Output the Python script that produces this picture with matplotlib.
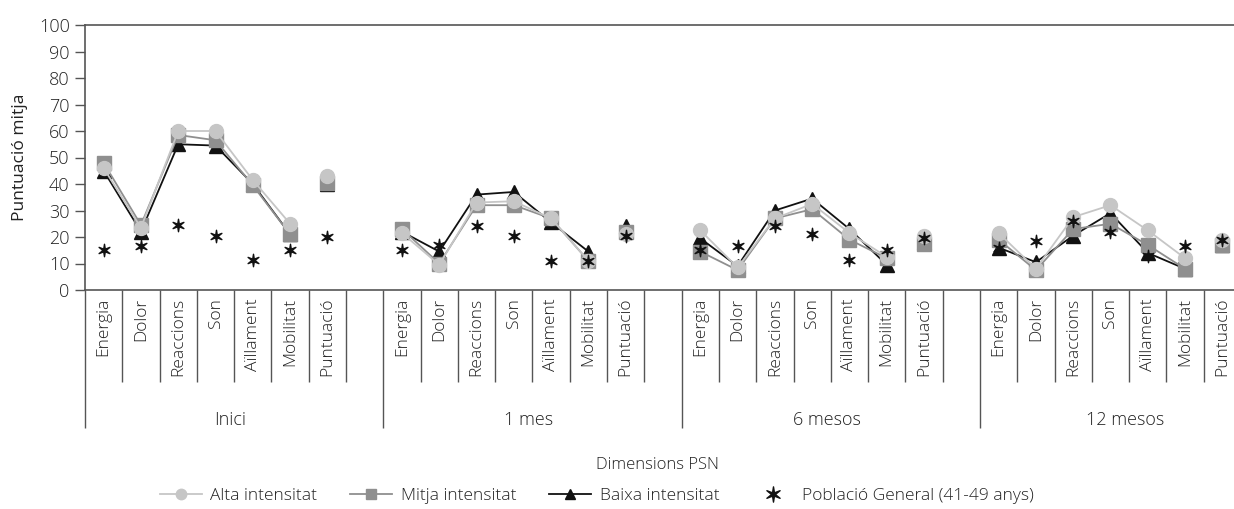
import numpy as np
import matplotlib.pyplot as plt
from matplotlib.path import Path
from matplotlib.lines import Line2D
import matplotlib.transforms as mtransforms

plt.rcParams['font.family'] = ['Open Sans', 'DejaVu Sans']
plt.rcParams['font.weight'] = 'light'

dimensions = ['Energia', 'Dolor', 'Reaccions', 'Son', 'Aïllament', 'Mobilitat', 'Puntuació']
moments = ['Inici', '1 mes', '6 mesos', '12 mesos']

# rows = moments, cols = dimensions
alta = [[46, 23.5, 60, 60, 41.5, 25, 43],
        [21.5, 9.5, 33, 33.5, 27, 11, 21],
        [22.5, 8.5, 27, 32.5, 21.5, 12.5, 20.5],
        [21.5, 8, 27.5, 32, 22.5, 12, 19]]
mitja = [[48, 24.5, 58.5, 56.5, 39.5, 21, 40.5],
         [23, 10, 32, 32, 27, 11, 22],
         [14.5, 7.5, 27, 30.5, 19, 12, 17.5],
         [19, 7.5, 23, 25, 17, 8, 17]]
baixa = [[45, 22, 55, 54.5, 40, 21, 40],
         [22, 14.5, 36, 37, 25.5, 14.5, 24],
         [19.5, 9, 30, 34.5, 23, 9.5, 18],
         [16, 10.5, 20.5, 29, 14, 8, 17]]
poblacio = [[15, 16.5, 24.5, 20.5, 11.5, 15, 20],
            [15, 17, 24, 20.5, 11, 11, 20.5],
            [15, 16.5, 24, 21, 11.5, 15, 19.5],
            [16, 18.5, 26, 22, 13, 16.5, 19]]

series = [('Alta intensitat', alta, '#c6c6c6', 'o', 10, 5),
          ('Mitja intensitat', mitja, '#8f8f8f', 's', 10.5, 4),
          ('Baixa intensitat', baixa, '#111111', '^', 9.5, 3)]

star = Path.unit_regular_star(6, 0.25)
txt = '#222222'

fig = plt.figure(figsize=(12.34, 5.09), dpi=100)
ax = fig.add_axes([85 / 1234, 219 / 509, 1156 / 1234, 265 / 509])

slot = 8
for g in range(len(moments)):
    xs = np.arange(len(dimensions)) + g * slot + 0.5
    for name, vals, col, mk, ms, z in series:
        v = vals[g]
        ax.plot(xs[:6], v[:6], color=col, lw=1.3, marker=mk, ms=ms,
                zorder=z, clip_on=False)
        ax.plot(xs[6], v[6], ls='none', marker=mk, ms=ms, color=col,
                zorder=z, clip_on=False)
    ax.plot(xs, poblacio[g], ls='none', marker=star, ms=9, color='#111111',
            zorder=6, clip_on=False)

ax.set_xlim(0, 31)
ax.set_ylim(0, 100)
ax.set_yticks(range(0, 101, 10))
ax.tick_params(axis='y', direction='out', length=7, width=1, color='#555555',
               labelsize=13, labelcolor=txt, pad=4)

ax.set_xticks([0, 8, 16, 24])
ax.set_xticks(range(0, 32), minor=True)
ax.tick_params(axis='x', which='major', direction='out', length=99, width=1,
               color='#555555', labelbottom=False)
ax.tick_params(axis='x', which='minor', direction='out', length=66, width=1,
               color='#555555', labelbottom=False)

for s in ['left', 'top', 'bottom']:
    ax.spines[s].set_color('#555555')
    ax.spines[s].set_linewidth(1.2)
ax.spines['right'].set_visible(False)

trans = mtransforms.blended_transform_factory(ax.transData, ax.transAxes)
for g, m in enumerate(moments):
    for c, d in enumerate(dimensions):
        ax.text(g * slot + c + 0.5, -0.03, d, transform=trans, rotation=90,
                ha='center', va='top', fontsize=12.5, color=txt)
    ax.text(g * slot + 3.9, -0.49, m, transform=trans, ha='center', va='center',
            fontsize=13, color=txt)

ax.set_ylabel('Puntuació mitja', fontsize=12.5, color=txt, labelpad=8)

fig.text(657 / 1234, 1 - 465 / 509, 'Dimensions PSN', ha='center', va='center',
         fontsize=12, color=txt)

handles = [Line2D([], [], color=col, lw=1.3, marker=mk, ms=ms * 0.75)
           for name, vals, col, mk, ms, z in series]
handles.append(Line2D([], [], ls='none', marker=star, ms=11, color='#111111'))
labels = [s[0] for s in series] + ['Població General (41-49 anys)']
leg = fig.legend(handles, labels, loc='center left',
                 bbox_to_anchor=(160 / 1234, 1 - 496 / 509),
                 ncol=4, frameon=False, fontsize=12.5, handlelength=2.4,
                 handletextpad=0.5, columnspacing=1.9, borderpad=0,
                 borderaxespad=0, labelcolor=txt)

fig.savefig('out.png', dpi=100)
